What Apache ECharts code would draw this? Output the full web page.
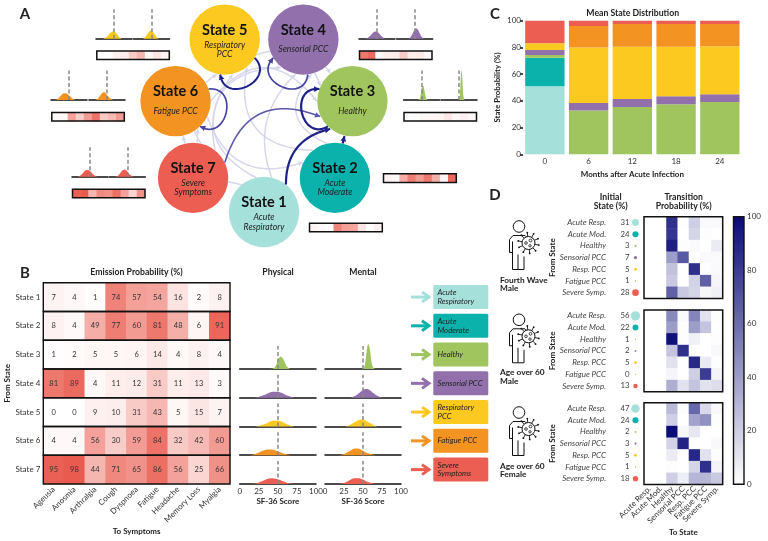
<!DOCTYPE html>
<html><head><meta charset="utf-8"><style>html,body{margin:0;padding:0;background:#fff}#c{width:768px;height:541px}</style>
<script src="https://cdn.jsdelivr.net/npm/echarts@6/dist/echarts.min.js"></script></head>
<body><div id="c"></div>
<script>
// ---------- data ----------
var stateNames=['State 1','State 2','State 3','State 4','State 5','State 6','State 7'];
var stateTypes=['Acute\nRespiratory','Acute\nModerate','Healthy','Sensorial PCC','Respiratory\nPCC','Fatigue PCC','Severe\nSymptoms'];
var stateColors=['#A5E0DB','#0BB1AB','#A0C55F','#9170AC','#FBC91F','#F39322','#EC5E52'];
var symptoms=['Ageusia','Anosmia','Arthralgia','Cough','Dyspnoea','Fatigue','Headache','Memory Loss','Myalgia'];
var emission=[
 [7,4,1,74,57,54,16,2,8],
 [8,4,49,77,60,81,48,6,91],
 [1,2,5,5,6,14,4,8,4],
 [81,89,4,11,12,31,11,13,3],
 [0,0,9,10,31,43,5,15,7],
 [4,4,56,30,59,84,32,42,60],
 [95,98,44,71,65,86,56,25,66]];
var physical3=[[40,0],[45,.04],[48,.18],[51,.42],[54,.49],[57,.4],[60,.2],[63,.06],[67,0]];
var physical4=[[18,0],[25,.04],[32,.11],[38,.19],[43,.235],[47,.24],[51,.23],[56,.18],[62,.09],[72,0]];
var physical5=[[20,0],[27,.04],[34,.11],[40,.2],[45,.235],[48,.24],[52,.225],[58,.15],[64,.06],[72,0]];
var physical6=[[13,0],[20,.05],[27,.14],[33,.21],[38,.23],[42,.225],[47,.19],[53,.12],[60,.05],[67,0]];
var physical7=[[16,0],[23,.04],[30,.12],[36,.2],[41,.23],[45,.225],[50,.19],[56,.12],[63,.04],[70,0]];
var mental3=[[48,0],[51,.04],[53,.25],[55,.75],[57,1],[59,.8],[61,.33],[63,.08],[66,0]];
var mental4=[[33,0],[38,.05],[43,.14],[48,.27],[52,.34],[55,.35],[59,.3],[64,.18],[70,.06],[77,0]];
var mental5=[[26,0],[32,.05],[37,.13],[42,.22],[46,.27],[49,.28],[53,.24],[59,.14],[65,.04],[70,0]];
var mental6=[[18,0],[25,.05],[31,.15],[36,.23],[40,.265],[43,.265],[49,.19],[55,.1],[62,.03],[67,0]];
var mental7=[[18,0],[25,.04],[31,.13],[36,.21],[40,.235],[44,.235],[49,.19],[55,.1],[62,.03],[67,0]];
var physicalCurves=[null,null,physical3,physical4,physical5,physical6,physical7];
var mentalCurves=[null,null,mental3,mental4,mental5,mental6,mental7];
var months=['0','6','12','18','24'];
var cAcuteResp=[51,0,0,0,0];
var cAcuteMod=[21.3,0,0,0,0];
var cHealthy=[2,32.7,35.4,37.4,39.2];
var cSensorial=[3.7,5.7,6,6,5.7];
var cRespPCC=[5,41.6,39.1,37.1,35.9];
var cFatigue=[0.4,16,17,17,16.7];
var cSevere=[16.6,4,2.5,2.5,2.5];
var shortStates=['Acute Resp.','Acute Mod.','Healthy','Sensorial PCC','Resp. PCC','Fatigue PCC','Severe Symp.'];
var cohortNames=['Fourth Wave\nMale','Age over 60\nMale','Age over 60\nFemale'];
var initialWave=[31,24,3,7,5,1,28];
var initialMale=[56,22,1,2,5,0,13];
var initialFemale=[47,24,2,3,5,1,18];
var transWave=[
 [0,0,85,1,20,2,2],[0,0,82,0,17,1,0],[0,0,92,1,2,0,8],[0,0,40,68,0,2,2],
 [0,0,25,0,85,1,2],[0,0,22,0,18,65,4],[0,0,65,22,17,3,6]];
var transMale=[
 [0,0,48,2,50,12,1],[0,0,40,1,40,24,0],[0,0,97,1,6,0,1],[0,0,24,85,0,0,3],
 [0,0,12,0,88,8,1],[0,0,4,0,20,80,5],[0,0,33,12,24,12,14]];
var transFemale=[
 [0,0,28,1,62,15,3],[0,0,20,0,38,45,1],[0,0,99,3,10,0,0],[0,0,18,90,0,0,3],
 [0,0,8,0,88,12,1],[0,0,1,0,17,85,5],[0,0,20,7,30,30,22]];
// network links: from, to, bend
var strongLinks=[[0,2,.4,2.2],[1,2,0,2.2],[6,2,.54,1.6]];
var selfLinks=[[2,2.2],[3,1.7],[4,2],[5,1.7]];
var faintLinks=[[0,4,.58],[1,4,.58],[6,4,.49],[5,2,.63],[6,3,.58],[0,5,.49],[0,3,.33],[1,3,.66],[4,2,.5],[5,1,-.5],[6,5,.1],[3,2,.1]];

// ---------- layout helpers ----------
var FONT='Lato';
var grids=[],xAxes=[],yAxes=[],series=[],gfx=[],redIdx=[],blueIdx=[];
function addGrid(l,t,w,h,xa,ya){var i=grids.length;grids.push({left:l,top:t,width:w,height:h,containLabel:false});
  xa.gridIndex=i;ya.gridIndex=i;xAxes.push(xa);yAxes.push(ya);return i;}
function hiddenVal(mn,mx,inv){return {type:'value',min:mn,max:mx,show:false,inverse:!!inv};}
function txt(x,y,s,o){o=o||{};gfx.push({type:'text',x:x,y:y,rotation:o.rot||0,z:50,style:{text:s,fontFamily:FONT,fontSize:o.size||8.7,fontWeight:o.bold===false?'normal':'bold',fill:o.color||'#222',align:o.align||'center',verticalAlign:'middle',lineHeight:o.lh||9}});}
function outline(g,lw){series.push({type:'custom',xAxisIndex:g,yAxisIndex:g,z:10,silent:true,data:[0],clip:false,renderItem:function(p,api){var c=p.coordSys;
  return {type:'rect',shape:{x:c.x,y:c.y,width:c.width,height:c.height},style:{fill:null,stroke:'#111',lineWidth:lw||1.5}};}});}

// ---------- panel letters ----------
txt(25,14,'A',{size:15});txt(25,273,'B',{size:15});txt(495,14,'C',{size:15});txt(495,195,'D',{size:15});

// ---------- Panel A network ----------
var cx=264,cy=121.3,R=90.7,nodeR=35.2;
var nodePos=stateNames.map(function(_,i){var a=i*2*Math.PI/7;return [cx+R*Math.sin(a),cy+R*Math.cos(a)];});
var gA=addGrid(0,0,768,541,hiddenVal(0,768),hiddenVal(0,541,true));
function quadPts(s,t,bend){var dx=t[0]-s[0],dy=t[1]-s[1],L=Math.hypot(dx,dy),ux=dx/L,uy=dy/L;
  var a=[s[0]+ux*nodeR,s[1]+uy*nodeR],e=[t[0]-ux*(nodeR+.5),t[1]-uy*(nodeR+.5)],len=Math.hypot(e[0]-a[0],e[1]-a[1]);
  var c=[(a[0]+e[0])/2+uy*bend*len,(a[1]+e[1])/2-ux*bend*len],pts=[];
  for(var k=0;k<=40;k++){var u=k/40,v=1-u;pts.push([v*v*a[0]+2*u*v*c[0]+u*u*e[0],v*v*a[1]+2*u*v*c[1]+u*u*e[1]]);}
  return pts;}
function loopPts(n){var c=nodePos[n],u=Math.atan2(cy-c[1],cx-c[0]),a=33*Math.PI/180,b=26*Math.PI/180,r=nodeR,K=66,pts=[];
  var P=function(rad,ang){return [c[0]+rad*Math.cos(u+ang),c[1]+rad*Math.sin(u+ang)];};
  var p0=P(r,-a),p1=P(K,-b),p2=P(K,b),p3=P(r,a);
  for(var k=0;k<=40;k++){var t=k/40,v=1-t;pts.push([0,1].map(function(i){return v*v*v*p0[i]+3*v*v*t*p1[i]+3*v*t*t*p2[i]+t*t*t*p3[i];}));}
  return pts;}
function arrowEls(pts,color,w,sz,api){
  var q=pts.map(function(p){return api.coord(p);}),e=q[q.length-1],f=q[Math.max(0,q.length-4)],ang=Math.atan2(e[1]-f[1],e[0]-f[0]);
  var head=[[e[0],e[1]],[e[0]-sz*Math.cos(ang-.5),e[1]-sz*Math.sin(ang-.5)],[e[0]-sz*Math.cos(ang+.5),e[1]-sz*Math.sin(ang+.5)]];
  return [{type:'polyline',shape:{points:q},style:{fill:null,stroke:color,lineWidth:w}},{type:'polygon',shape:{points:head},style:{fill:color}}];
}
series.push({type:'custom',xAxisIndex:gA,yAxisIndex:gA,z:1,silent:true,clip:false,data:faintLinks.map(function(_,i){return i;}),renderItem:function(p,api){
  var l=faintLinks[p.dataIndex];
  return {type:'group',children:arrowEls(quadPts(nodePos[l[0]],nodePos[l[1]],l[2]),'#D6D6EC',1.5,5,api)};}});
series.push({type:'scatter',xAxisIndex:gA,yAxisIndex:gA,z:3,silent:true,symbolSize:70.4,
  data:stateNames.map(function(n,i){var one=stateTypes[i].indexOf('\n')<0;
    return {value:nodePos[i],itemStyle:{color:stateColors[i],opacity:1},label:{formatter:'{t|'+n+'}\n'+stateTypes[i].split('\n').map(function(x){return '{'+(one?'o':'s')+'|'+x+'}';}).join('\n')}};}),
  label:{show:true,position:'inside',rich:{t:{fontFamily:FONT,fontWeight:'bold',fontSize:14.5,lineHeight:20,color:'#111',align:'center'},
    s:{fontFamily:FONT,fontStyle:'italic',fontSize:8.7,lineHeight:9.5,color:'#222',align:'center'},
    o:{fontFamily:FONT,fontStyle:'italic',fontSize:8.7,lineHeight:19,color:'#222',align:'center'}}}});
series.push({type:'custom',xAxisIndex:gA,yAxisIndex:gA,z:5,silent:true,clip:false,data:strongLinks.map(function(_,i){return i;}),renderItem:function(p,api){
  var l=strongLinks[p.dataIndex],col=l[3]>2?'#1E2189':'#5B59AB';
  return {type:'group',children:arrowEls(quadPts(nodePos[l[0]],nodePos[l[1]],l[2]),col,l[3],6,api)};}});
series.push({type:'custom',xAxisIndex:gA,yAxisIndex:gA,z:5,silent:true,clip:false,data:selfLinks.map(function(_,i){return i;}),renderItem:function(p,api){
  var l=selfLinks[p.dataIndex],col=l[1]>1.9?'#1E2189':'#45439F';
  return {type:'group',children:arrowEls(loopPts(l[0]),col,l[1],6,api)};}});

// density panel helper
function density(l,t,w,h,curve,color,state,opts){
  opts=opts||{};
  var g=addGrid(l,t,w,h,{type:'value',min:0,max:100,interval:25,splitLine:{show:false},axisTick:{show:false},
     axisLine:{show:true,onZero:false,lineStyle:{color:'#111',width:1.5}},
     axisLabel:{show:!!opts.labels,fontFamily:FONT,fontSize:8,color:'#333',margin:3,hideOverlap:false},
     name:opts.labels?'SF-36 Score':'',nameLocation:'middle',nameGap:13,nameTextStyle:{fontFamily:FONT,fontSize:8,fontWeight:'bold',color:'#222'}},
     hiddenVal(0,1));
  series.push({type:'line',xAxisIndex:g,yAxisIndex:g,data:curve,smooth:.45,showSymbol:false,silent:true,z:2,clip:false,
    lineStyle:{width:0},areaStyle:{color:color,opacity:1},
    markLine:{silent:true,symbol:'none',animation:false,label:{show:false},lineStyle:{color:'#888',type:[4,2.5],width:1.5},
      data:[[{coord:[50,0]},{coord:[50,opts.dash||1]}]]}});
}
// emission strip helper
function strip(l,t,w,h,row){
  var g=addGrid(l,t,w,h,{type:'category',data:symptoms,show:false},{type:'category',data:['s'],show:false});
  redIdx.push(series.length);
  series.push({type:'heatmap',xAxisIndex:g,yAxisIndex:g,silent:true,z:2,data:emission[row].map(function(v,i){return [i,0,v];})});
  outline(g,1.5);
}
var miniPlots=[
 {s:2,base:100,xs:[403.5,441],strip:[404,112.5]},
 {s:3,base:38.7,xs:[359,396.7],strip:[359.5,51]},
 {s:4,base:38.7,xs:[96,133.5],strip:[96.8,51]},
 {s:5,base:100,xs:[51,89],strip:[51.8,112.5]},
 {s:6,base:176.7,xs:[72,109.3],strip:[72.5,189.2]}];
miniPlots.forEach(function(m){
  density(m.xs[0],m.base-29.5,36,29.5,physicalCurves[m.s],stateColors[m.s],m.s);
  density(m.xs[1],m.base-29.5,36,29.5,mentalCurves[m.s],stateColors[m.s],m.s);
  strip(m.strip[0],m.strip[1],72.5,8.6,m.s);
});
strip(383.5,173.8,72.8,8.6,1);
strip(309.5,223.2,72.8,8.6,0);

// ---------- Panel B heatmap ----------
var hT=282.7,hH=201.3,rowH=hH/7;
var gB=addGrid(43.3,hT,186.7,hH,
 {type:'category',data:symptoms,axisLine:{show:false},axisTick:{show:false},splitLine:{show:false},
  axisLabel:{rotate:45,interval:0,fontFamily:FONT,fontSize:8,color:'#333',margin:4},
  name:'To Symptoms',nameLocation:'middle',nameGap:42,nameTextStyle:{fontFamily:FONT,fontSize:8,fontWeight:'bold',color:'#222'}},
 {type:'category',inverse:true,data:stateNames,axisLine:{show:false},axisTick:{show:false},
  axisLabel:{fontFamily:FONT,fontSize:8,color:'#333',margin:3},
  name:'From State',nameLocation:'middle',nameGap:28,nameTextStyle:{fontFamily:FONT,fontSize:8,fontWeight:'bold',color:'#222'}});
redIdx.push(series.length);
var hbData=[];emission.forEach(function(r,j){r.forEach(function(v,i){hbData.push([i,j,v]);});});
series.push({type:'heatmap',xAxisIndex:gB,yAxisIndex:gB,silent:true,z:2,data:hbData,
  label:{show:true,fontFamily:FONT,fontSize:7.5,color:'#333',formatter:function(p){return p.value[2];}}});
series.push({type:'custom',xAxisIndex:gB,yAxisIndex:gB,z:10,silent:true,clip:false,data:stateNames.map(function(n,i){return [0,i];}),
  renderItem:function(p,api){var c=p.coordSys,y=api.coord([0,api.value(1)])[1],h=api.size([0,1])[1];
    return {type:'rect',shape:{x:c.x,y:y-h/2,width:c.width,height:h},style:{fill:null,stroke:'#111',lineWidth:1.4}};}});
txt(136.5,272,'Emission Probability (%)');

// ---------- Panel B densities ----------
txt(278,272,'Physical');txt(363,272,'Mental');
for(var st=2;st<7;st++){
  var base=hT+rowH*(st+1);
  density(239.7,base-25,76.3,25,physicalCurves[st],stateColors[st],st,{labels:st===6,dash:.92});
  density(325,base-25,76,25,mentalCurves[st],stateColors[st],st,{labels:st===6,dash:.92});
}
// legend
var gL=addGrid(411,hT,78,hH,hiddenVal(0,78),{type:'category',inverse:true,data:stateNames,show:false});
series.push({type:'custom',xAxisIndex:gL,yAxisIndex:gL,silent:true,clip:false,z:3,data:stateNames.map(function(n,i){return [0,i];}),
 renderItem:function(p,api){var i=p.dataIndex,y=api.coord([0,i])[1],x0=api.coord([0,i])[0],c=stateColors[i];
  return {type:'group',children:[
   {type:'polyline',shape:{points:[[x0,y],[x0+17,y]]},style:{fill:null,stroke:c,lineWidth:3}},
   {type:'polyline',shape:{points:[[x0+11,y-5],[x0+18,y],[x0+11,y+5]]},style:{fill:null,stroke:c,lineWidth:3}},
   {type:'rect',shape:{x:x0+22.3,y:y-12,width:55,height:24,r:1.5},style:{fill:c}},
   {type:'text',style:{x:x0+26.5,y:y,text:stateTypes[i],fontFamily:FONT,fontStyle:'italic',fontSize:7.8,lineHeight:8.3,fill:'#222',verticalAlign:'middle',align:'left'}}]};}});

// ---------- Panel C ----------
var gC=addGrid(523,20.7,218.7,133.6,
 {type:'category',data:months,axisLine:{show:false},axisTick:{show:false},axisLabel:{fontFamily:FONT,fontSize:8,color:'#333',margin:3},
  name:'Months after Acute Infection',nameLocation:'middle',nameGap:16,nameTextStyle:{fontFamily:FONT,fontSize:8,fontWeight:'bold',color:'#222'}},
 {type:'value',min:0,max:100,interval:20,splitLine:{show:false},axisLine:{show:false},axisTick:{show:true,length:3,lineStyle:{color:'#111',width:1.5}},
  axisLabel:{fontFamily:FONT,fontSize:8,color:'#333',margin:2},
  name:'State Probability (%)',nameLocation:'middle',nameGap:22,nameTextStyle:{fontFamily:FONT,fontSize:7.8,fontWeight:'bold',color:'#222'}});
[cAcuteResp,cAcuteMod,cHealthy,cSensorial,cRespPCC,cFatigue,cSevere].forEach(function(d,i){
  series.push({type:'bar',xAxisIndex:gC,yAxisIndex:gC,stack:'mean',barWidth:'90%',silent:true,data:d,itemStyle:{color:stateColors[i]}});});
txt(632.7,13,'Mean State Distribution');

// ---------- Panel D ----------
var panels=[{t:216.7,tr:transWave,ini:initialWave,lab:280},{t:310,tr:transMale,ini:initialMale,lab:372.7},{t:402.7,tr:transFemale,ini:initialFemale,lab:466}];
var dH=81.8;
panels.forEach(function(pn,k){
  var last=k===2;
  var g=addGrid(644,pn.t,78.7,dH,
   {type:'category',data:shortStates,axisLine:{show:false},axisTick:{show:false},
    axisLabel:{show:last,rotate:45,interval:0,fontFamily:FONT,fontSize:8,color:'#333',margin:3},
    name:last?'To State':'',nameLocation:'middle',nameGap:42,nameTextStyle:{fontFamily:FONT,fontSize:8,fontWeight:'bold',color:'#222'}},
   {type:'category',inverse:true,data:shortStates,axisLine:{show:false},axisTick:{show:false},
    axisLabel:{interval:0,fontFamily:FONT,fontStyle:'italic',fontSize:8,color:'#444',margin:38},
    name:'From State',nameLocation:'middle',nameGap:87,nameTextStyle:{fontFamily:FONT,fontSize:8,fontWeight:'bold',color:'#222'}});
  blueIdx.push(series.length);
  var d=[];pn.tr.forEach(function(r,j){r.forEach(function(v,i){d.push([i,j,v]);});});
  series.push({type:'heatmap',xAxisIndex:g,yAxisIndex:g,silent:true,z:2,data:d});
  outline(g,1.5);
  var gd=addGrid(630.5,pn.t,10,dH,{type:'category',data:['i'],show:false},
   {type:'category',inverse:true,data:shortStates,axisLine:{show:false},axisTick:{show:false},
    axisLabel:{interval:0,fontFamily:FONT,fontSize:7.8,color:'#444',margin:1,formatter:function(v,idx){return pn.ini[idx];}}});
  series.push({type:'scatter',xAxisIndex:gd,yAxisIndex:gd,silent:true,z:3,clip:false,
    data:pn.ini.map(function(v,i){return {value:[0,i,v],itemStyle:{color:stateColors[i],opacity:1},symbolSize:Math.max(1,1.25*Math.sqrt(v))};})});
  // person icon with virus
  var ox=519,oy=pn.t+9.8;
  var els=[{type:'circle',shape:{cx:ox,cy:oy,r:5.8},style:{fill:'#fff',stroke:'#111',lineWidth:1}},
   {type:'polyline',shape:{points:[[ox-9.5,oy+26],[ox-9.5,oy+13],[ox-6,oy+9],[ox+6,oy+9],[ox+9,oy+12]]},style:{fill:null,stroke:'#111',lineWidth:1}},
   {type:'polyline',shape:{points:[[ox-6.5,oy+15],[ox-6.5,oy+43],[ox+5,oy+43],[ox+5,oy+30]]},style:{fill:null,stroke:'#111',lineWidth:1}},
   {type:'polyline',shape:{points:[[ox-1,oy+43],[ox-1,oy+28]]},style:{fill:null,stroke:'#111',lineWidth:1}},
   {type:'polyline',shape:{points:[[ox-9.5,oy+26],[ox-6.5,oy+26]]},style:{fill:null,stroke:'#111',lineWidth:1}}];
  var vx=ox+9.5,vy=oy+16.5;
  for(var s=0;s<10;s++){var a=s*Math.PI/5+.2,x1=vx+6*Math.cos(a),y1=vy+6*Math.sin(a),x2=vx+10.5*Math.cos(a),y2=vy+10.5*Math.sin(a);
    els.push({type:'line',shape:{x1:x1,y1:y1,x2:x2,y2:y2},style:{stroke:'#111',lineWidth:.9}});
    els.push({type:'circle',shape:{cx:x2,cy:y2,r:.9},style:{fill:'#111'}});}
  els.push({type:'circle',shape:{cx:vx,cy:vy,r:6.5},style:{fill:'#fff',stroke:'#111',lineWidth:1}});
  [[-2.5,0,1.3],[2,-2.5,1.4],[1.5,2.8,1.2]].forEach(function(h){els.push({type:'circle',shape:{cx:vx+h[0],cy:vy+h[1],r:h[2]},style:{fill:'#fff',stroke:'#111',lineWidth:.8}});});
  gfx.push({type:'group',z:40,children:els});
  txt(500,pn.lab+4.3,cohortNames[k],{align:'left',size:8.3,lh:8.8});
});
txt(610.7,201.5,'Initial\nState (%)',{lh:9.5});
txt(683.7,201.5,'Transition\nProbability (%)',{lh:9.5});
// colour bar
var gBar=addGrid(733.5,216.7,10.5,267.6,hiddenVal(0,1),
 {type:'value',min:0,max:100,interval:20,position:'right',splitLine:{show:false},axisLine:{show:false},
  axisTick:{show:true,length:2.5,lineStyle:{color:'#111',width:1}},axisLabel:{fontFamily:FONT,fontSize:8,color:'#333',margin:3}});
series.push({type:'custom',xAxisIndex:gBar,yAxisIndex:gBar,silent:true,clip:false,z:3,data:[[0,100]],renderItem:function(p,api){var c=p.coordSys;
  return {type:'rect',shape:{x:c.x,y:c.y,width:c.width,height:c.height},style:{stroke:'#111',lineWidth:1.4,fill:new echarts.graphic.LinearGradient(0,1,0,0,[{offset:0,color:'#fff'},{offset:1,color:'#0A0A78'}])}};}});

var chart=echarts.init(document.getElementById('c'),null,{renderer:'canvas',width:768,height:541});
chart.setOption({animation:false,backgroundColor:'#fff',textStyle:{fontFamily:FONT},
 grid:grids,xAxis:xAxes,yAxis:yAxes,series:series,graphic:{elements:gfx},
 visualMap:[
  {type:'continuous',show:false,min:0,max:100,seriesIndex:redIdx,inRange:{color:['#FFFFFF','#E9584B']}},
  {type:'continuous',show:false,min:0,max:100,seriesIndex:blueIdx,inRange:{color:['#FFFFFF','#0A0A78']}}]});
</script></body></html>
